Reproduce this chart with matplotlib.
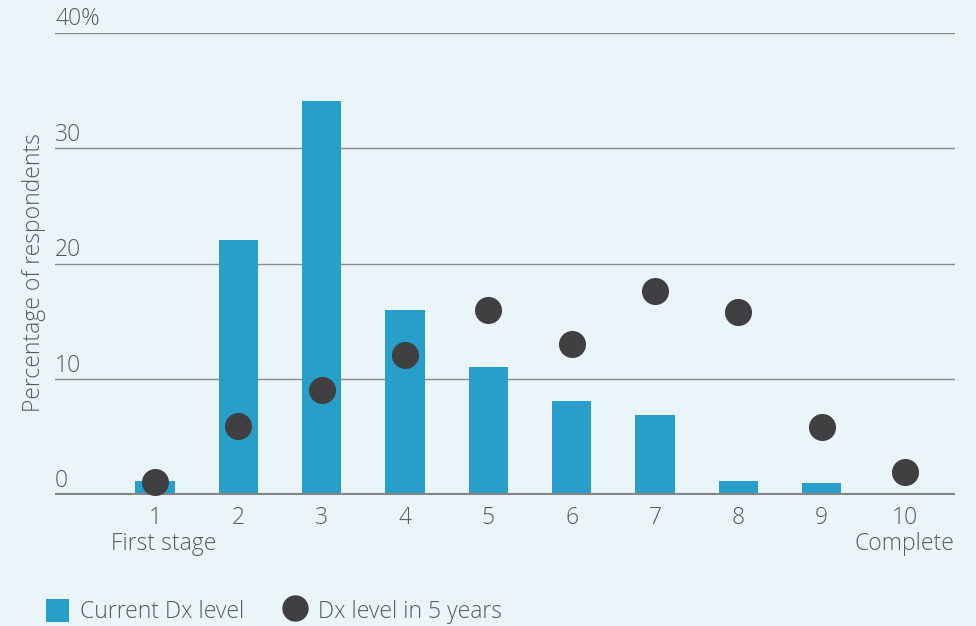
import matplotlib.pyplot as plt
from matplotlib.lines import Line2D
from matplotlib.patches import Patch

# data
levels = [1, 2, 3, 4, 5, 6, 7, 8, 9, 10]
current = [1.2, 22.1, 34.1, 16.0, 11.1, 8.1, 6.9, 1.2, 1.0, 0.0]
in_5_years = [1.1, 6.0, 9.1, 12.1, 16.0, 13.1, 17.7, 15.8, 5.9, 2.0]
y_ticks = [0, 10, 20, 30, 40]
y_labels = ["0", "10", "20", "30", "40%"]

bar_color = "#289fca"
dot_color = "#404043"
bg = "#eaf5fa"
text_color = "#5a5a5a"
fs = 16.5

plt.rcParams["font.family"] = ["Open Sans", "DejaVu Sans"]
plt.rcParams["font.weight"] = "light"

fig = plt.figure(figsize=(9.76, 6.26), dpi=100, facecolor=bg)
ax = fig.add_axes([0.0564, 0.2093, 0.922, 0.738], facecolor=bg)

# grid lines
for t in y_ticks[1:]:
    ax.axhline(t, color="#8a8a8a", lw=1, zorder=1)
ax.axhline(0, color="#858585", lw=3, zorder=4)

ax.bar(levels, current, width=0.47, color=bar_color, zorder=2)
ax.plot(levels, in_5_years, "o", color=dot_color, markersize=19.5,
        markeredgewidth=0, zorder=5)

ax.set_xlim(-0.2, 10.6)
ax.set_ylim(0, 40)

# y labels sit above the grid lines
for t, lab in zip(y_ticks, y_labels):
    ax.text(-0.2, t + 0.15, lab, ha="left", va="bottom", fontsize=fs,
            color=text_color)

ax.set_yticks([])
ax.set_xticks(levels)
ax.set_xticklabels([str(l) for l in levels], fontsize=fs, color=text_color)
ax.tick_params(axis="x", length=0, pad=8)
ax.text(1.1, -4.25, "First stage", ha="center", va="center", fontsize=fs,
        color=text_color)
ax.text(10, -4.25, "Complete", ha="center", va="center", fontsize=fs,
        color=text_color)

for s in ax.spines.values():
    s.set_visible(False)

fig.text(0.035, 0.565, "Percentage of respondents", rotation=90, ha="center",
         va="center", fontsize=fs, color=text_color)

handles = [
    Patch(facecolor=bar_color, label="Current Dx level"),
    Line2D([], [], marker="o", ls="", color=dot_color, markersize=19,
           markeredgewidth=0, label="Dx level in 5 years"),
]
fig.legend(handles=handles, loc="lower left", bbox_to_anchor=(0.026, -0.03),
           ncol=2, frameon=False, fontsize=fs, labelcolor=text_color,
           handlelength=1.0, handleheight=1.2, columnspacing=1.7,
           handletextpad=0.5)

plt.savefig("out.png", dpi=100, facecolor=bg)
